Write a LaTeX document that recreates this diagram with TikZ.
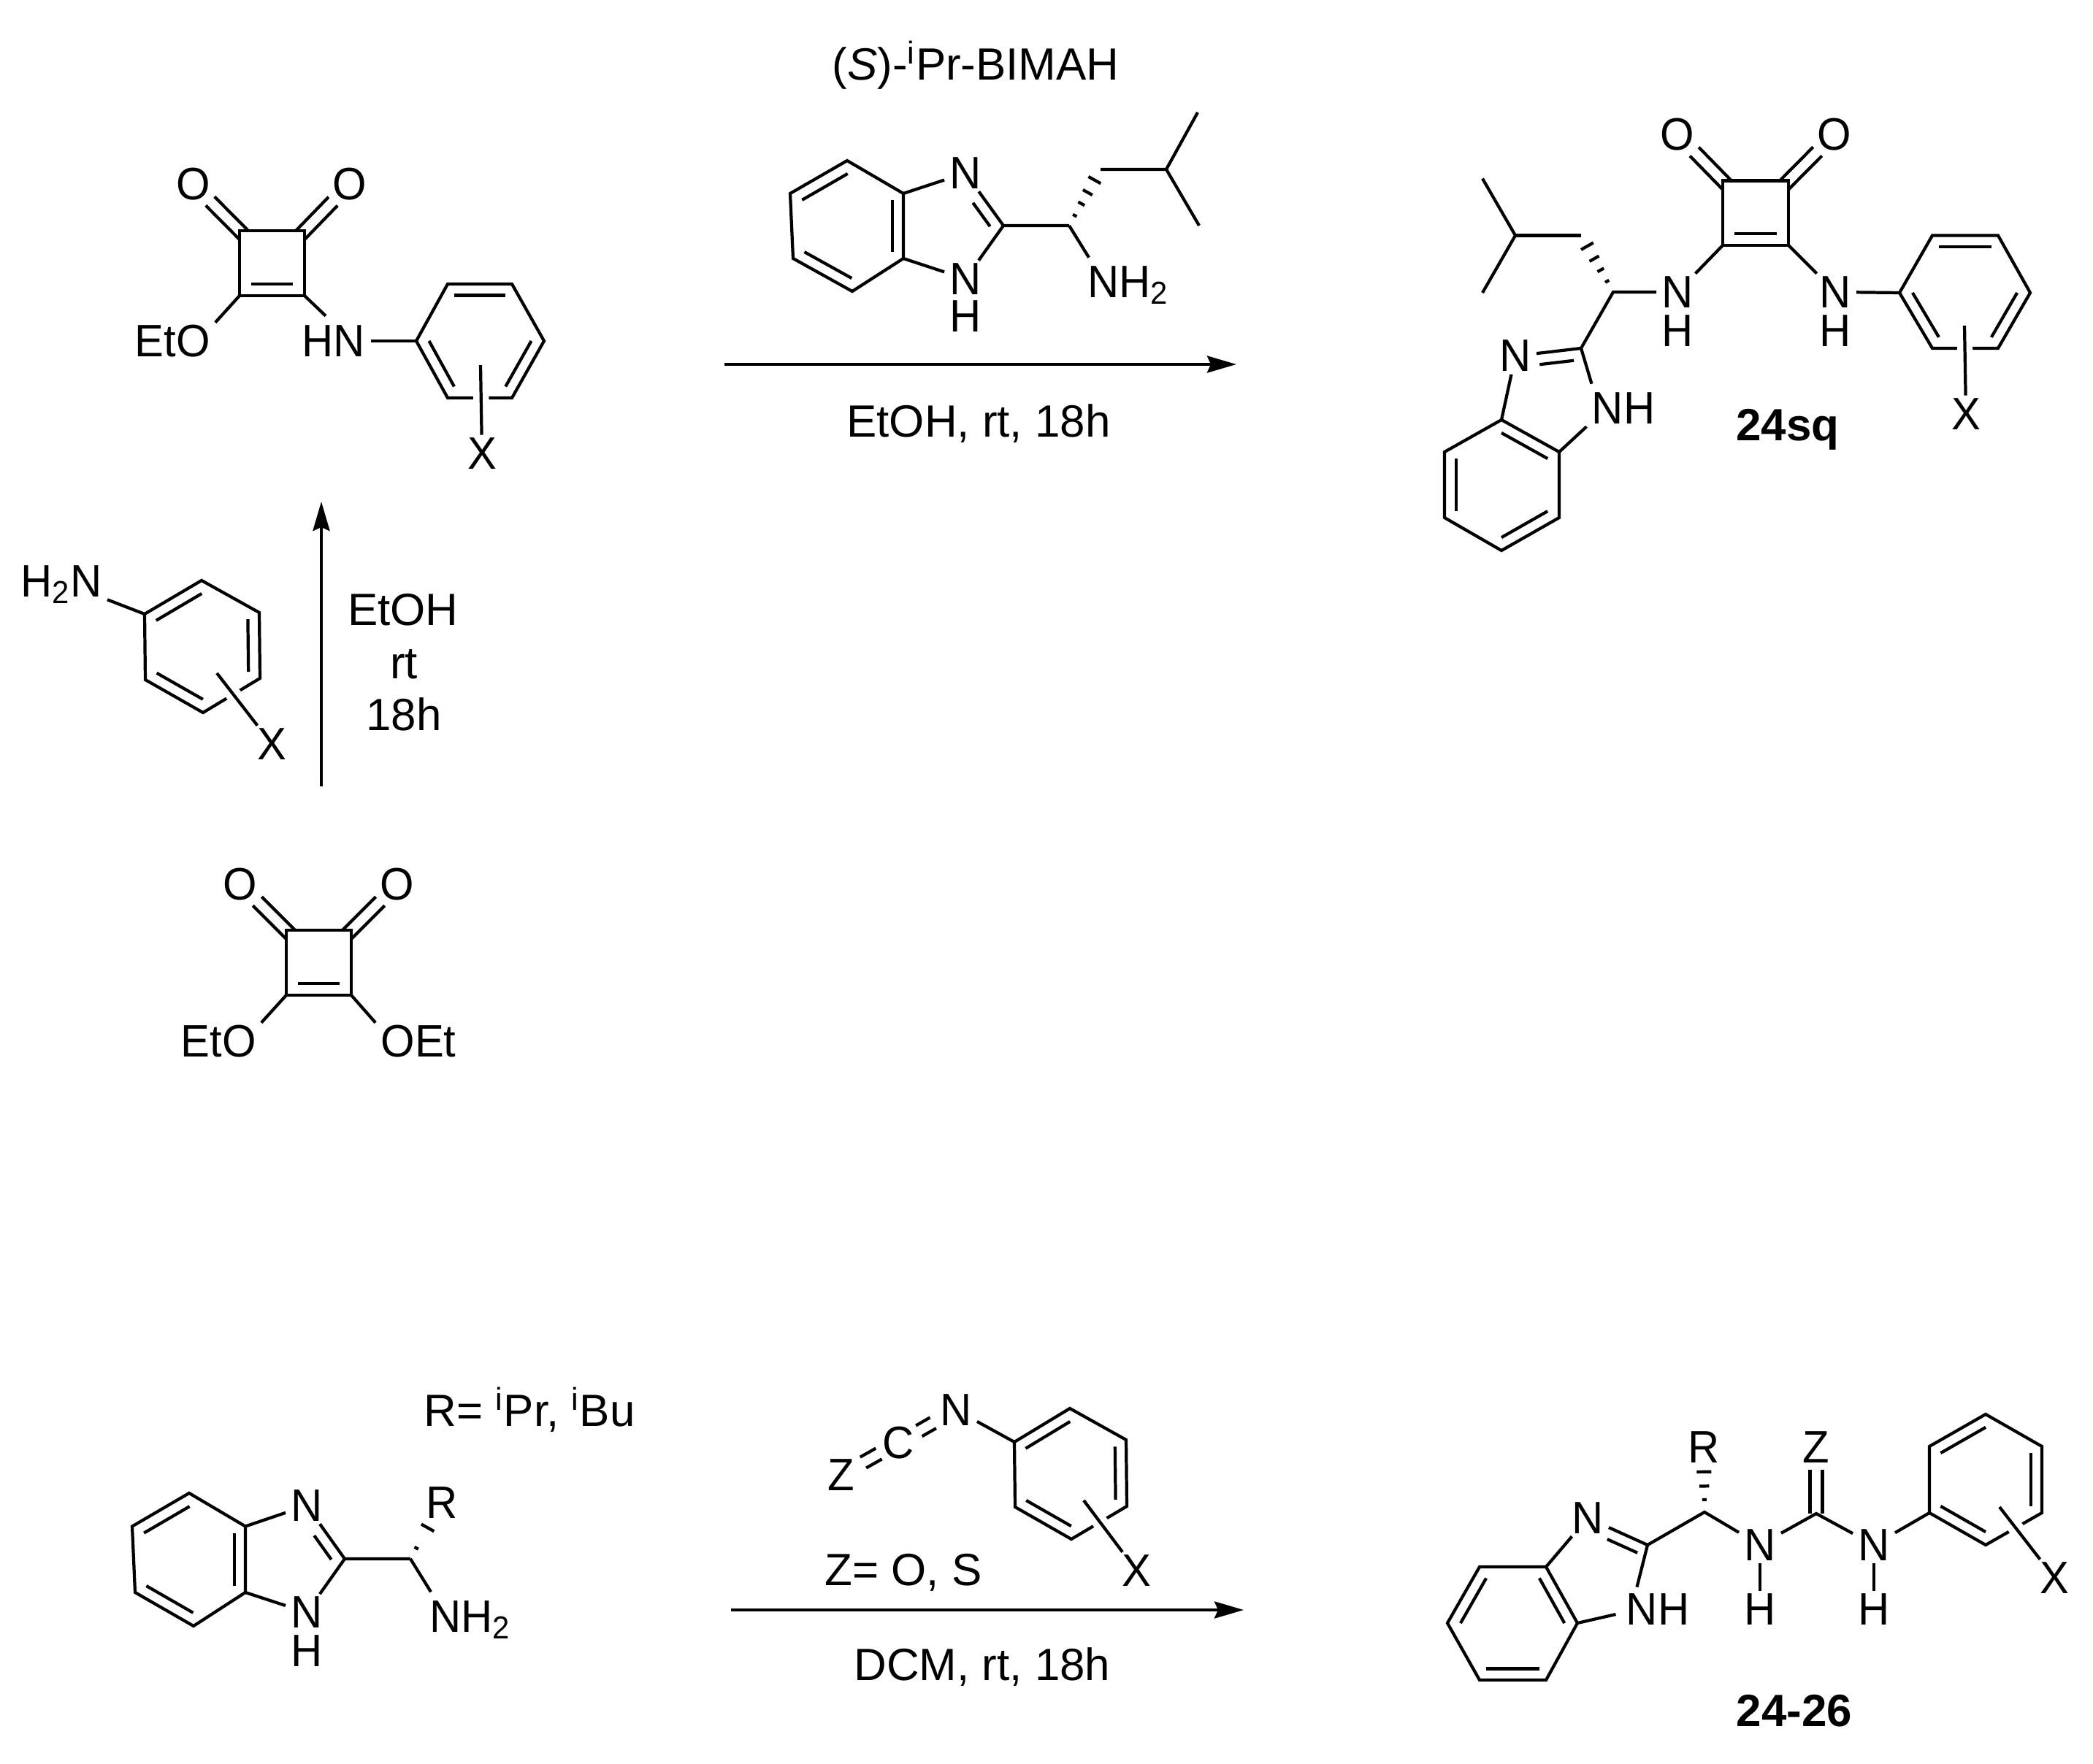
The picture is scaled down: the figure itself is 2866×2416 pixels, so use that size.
\documentclass[tikz,border=0pt]{standalone}
\usepackage{fontspec}
\setmainfont{Liberation Sans}
\newfontfamily\atomfam[FakeStretch=.96]{Liberation Sans}
\usetikzlibrary{arrows.meta,calc}
\newcommand{\atomfont}{\atomfam\fontsize{17.7}{20}\selectfont}
\newcommand{\notefont}{\fontsize{17.6}{20}\selectfont}
\newcommand{\inbond}[4][.2]{\draw ($(#2)!#1!(#4)$) -- ($(#3)!#1!(#4)$);}
\newcommand{\cnbond}[4]{\draw ($(#1)!#3!(#2)!.155cm!-90:(#2)$) -- ($(#1)!#4!(#2)!.155cm!-90:(#2)$);}
\newcommand{\dblbond}[4]{
    \coordinate (dba) at ($(#1)!#3!(#2)$);
    \coordinate (dbb) at ($(#2)!#4!(#1)$);
    \draw ($(dba)!.085cm!90:(dbb)$) -- ($(dbb)!.085cm!-90:(dba)$)
          ($(dba)!.085cm!-90:(dbb)$) -- ($(dbb)!.085cm!90:(dba)$);
}
\newcommand{\hashbond}[3]{
    \foreach \t/\w in {#3}
        \draw ($(#1)!\t!(#2)!\w cm!90:(#2)$) -- ($(#1)!\t!(#2)!\w cm!-90:(#2)$);
}
\tikzset{
    atom/.style={font=\atomfont,inner xsep=1.5pt,inner ysep=.5pt,text height=12.2pt,text depth=0pt},
    note/.style={font=\notefont,inner sep=0pt,text height=12.2pt,text depth=0pt},
    cpd/.style={font=\notefont\bfseries,inner sep=0pt,text height=12.2pt,text depth=0pt},
    over/.style={preaction={draw,white,line width=6pt}}
}
\begin{document}
\begin{tikzpicture}[x=.01cm,y=-.01cm,line width=1.2pt,>={Stealth[length=.4cm,width=.23cm,inset=.05cm]}]
            \useasboundingbox (0,0) rectangle (2866,2416);

            \coordinate (a1) at (328,316);
            \coordinate (a2) at (417,316);
            \coordinate (a3) at (417,405);
            \coordinate (a4) at (328,405);
            \coordinate (ac) at ($(a1)!.5!(a3)$);
            \node[atom] (aol) at (264.5,252) {O};
            \node[atom] (aor) at (479,252) {O};
            \node[atom] (aeto) at (236,467) {EtO};
            \node[atom] (ahn) at (457,467) {HN};
            \node[atom] (ax) at (660,621) {X};
            \draw (a1) -- (a2) -- (a3) -- (a4) -- cycle;
            \inbond[.36]{a4}{a3}{ac}
            \dblbond{aol}{a1}{.33cm}{-.08cm}
            \dblbond{aor}{a2}{.33cm}{-.08cm}
            \draw (a4) -- (aeto.north east);
            \draw (a3) -- ($(ahn.north)+(-11,-9)$);
            \coordinate (ap1) at (570,467);
            \coordinate (ap2) at (613,389);
            \coordinate (ap3) at (701,389);
            \coordinate (ap4) at (745,467);
            \coordinate (ap5) at (701,545);
            \coordinate (ap6) at (613,545);
            \coordinate (apc) at ($(ap1)!.5!(ap4)$);
            \draw (ap1) -- (ap2) -- (ap3) -- (ap4) -- (ap5) -- (ap6) -- cycle;
            \inbond{ap2}{ap3}{apc}
            \inbond{ap1}{ap6}{apc}
            \inbond{ap4}{ap5}{apc}
            \draw (ahn) -- (ap1);
            \coordinate (axa) at (658,500);
            \draw[over] (axa) -- (ax);

            \node[note] (btitle) at (1336,88) {(\textit{S})-\textsuperscript{i}Pr-BIMAH};
            \coordinate (b1) at (1160,220);
            \coordinate (b2) at (1082,265);
            \coordinate (b3) at (1086,354);
            \coordinate (b4) at (1167,399);
            \coordinate (b5) at (1237,354);
            \coordinate (b6) at (1237,265);
            \coordinate (bc) at ($(b1)!.5!(b4)$);
            \node[atom] (bn1) at (1322,237) {N};
            \node[atom] (bn2) at (1322,382) {N};
            \node[atom] (bh) at (1322,433) {H};
            \coordinate (bc2) at (1374,309);
            \coordinate (bcs) at (1464,309);
            \coordinate (bch2) at (1507,232);
            \coordinate (bch) at (1597,232);
            \coordinate (bme1) at (1640,154);
            \coordinate (bme2) at (1642,309);
            \node[atom,anchor=west,inner xsep=0pt] (bnh) at (1487,386) {NH\textsubscript{2}};
            \draw (b1) -- (b2) -- (b3) -- (b4) -- (b5) -- (b6) -- cycle;
            \inbond{b1}{b2}{bc}
            \inbond{b3}{b4}{bc}
            \inbond{b5}{b6}{bc}
            \draw (b6) -- (bn1);
            \draw (b5) -- (bn2);
            \draw (bn1) -- (bc2);
            \cnbond{bn1}{bc2}{.44}{.89}
            \draw (bn2) -- (bc2) -- (bcs);
            \draw (bcs) -- ($(bnh.north west)+(4,-8)$);
            \hashbond{bcs}{bch2}{.18/.03,.39/.05,.59/.074,.81/.096}
            \draw (bch2) -- (bch) -- (bme1);
            \draw (bch) -- (bme2);

            \coordinate (ar1a) at (992,499);
            \coordinate (ar1b) at (1693,499);
            \draw[->] (ar1a) -- (ar1b);
            \node[note] (ar1t) at (1340,577) {EtOH, rt, 18h};

            \coordinate (c1) at (2359,247.5);
            \coordinate (c2) at (2449,247.5);
            \coordinate (c3) at (2449,336);
            \coordinate (c4) at (2359,336);
            \coordinate (cc) at ($(c1)!.5!(c3)$);
            \node[atom] (col) at (2297,184) {O};
            \node[atom] (cor) at (2512,184) {O};
            \node[atom] (cn1) at (2297,400) {N};
            \node[atom] (ch1) at (2297,453) {H};
            \node[atom] (cn2) at (2513,400) {N};
            \node[atom] (ch2) at (2513,453) {H};
            \node[atom] (cx) at (2692,567) {X};
            \node[cpd] (clab) at (2448,582) {24sq};
            \draw (c1) -- (c2) -- (c3) -- (c4) -- cycle;
            \inbond[.36]{c4}{c3}{cc}
            \dblbond{col}{c1}{.33cm}{-.08cm}
            \dblbond{cor}{c2}{.33cm}{-.08cm}
            \draw (c4) -- (cn1);
            \draw (c3) -- (cn2);
            \coordinate (cp1) at (2601,401);
            \coordinate (cp2) at (2646,322.5);
            \coordinate (cp3) at (2736,322.5);
            \coordinate (cp4) at (2780,401);
            \coordinate (cp5) at (2736,477);
            \coordinate (cp6) at (2646,477);
            \coordinate (cpc) at ($(cp1)!.5!(cp4)$);
            \draw (cp1) -- (cp2) -- (cp3) -- (cp4) -- (cp5) -- (cp6) -- cycle;
            \inbond{cp2}{cp3}{cpc}
            \inbond{cp1}{cp6}{cpc}
            \inbond{cp4}{cp5}{cpc}
            \draw (cn2) -- (cp1);
            \coordinate (cxa) at (2690,446);
            \draw[over] (cxa) -- (cx);
            \coordinate (cme1) at (2030,244.6);
            \coordinate (cme2) at (2030,401);
            \coordinate (cch) at (2075,322.5);
            \coordinate (cch2) at (2165,322.5);
            \coordinate (ccs) at (2209,400);
            \coordinate (cc2) at (2165,477);
            \draw (cme1) -- (cch) -- (cme2);
            \draw (cch) -- (cch2);
            \hashbond{ccs}{cch2}{.19/.03,.39/.05,.59/.074,.81/.096}
            \draw (cc2) -- (ccs) -- (cn1);
            \node[atom] (cn3) at (2075,487.5) {N};
            \node[atom] (cnh) at (2223,559) {NH};
            \draw (cn3) -- (cc2);
            \cnbond{cn3}{cc2}{.35}{.87}
            \draw (cc2) -- ($(cnh.north west)+(7,-8)$);
            \coordinate (cb1) at (2056,575);
            \coordinate (cb2) at (2135,619);
            \coordinate (cb3) at (2135,709);
            \coordinate (cb4) at (2056,754);
            \coordinate (cb5) at (1978,709);
            \coordinate (cb6) at (1978,619);
            \coordinate (cbc) at ($(cb1)!.5!(cb4)$);
            \draw (cb1) -- (cb2) -- (cb3) -- (cb4) -- (cb5) -- (cb6) -- cycle;
            \inbond{cb1}{cb2}{cbc}
            \inbond{cb3}{cb4}{cbc}
            \inbond{cb5}{cb6}{cbc}
            \draw (cn3) -- (cb1);
            \draw (cnh.south west) -- (cb2);

            \coordinate (d1) at (198,841);
            \coordinate (d2) at (276,795);
            \coordinate (d3) at (355,839);
            \coordinate (d4) at (356,929);
            \coordinate (d5) at (278,976);
            \coordinate (d6) at (199,931);
            \coordinate (dc) at ($(d1)!.5!(d4)$);
            \node[atom] (dnh) at (84,796) {H\textsubscript{2}N};
            \node[atom] (dx) at (372,1019) {X};
            \draw (d1) -- (d2) -- (d3) -- (d4) -- (d5) -- (d6) -- cycle;
            \inbond{d1}{d2}{dc}
            \inbond{d3}{d4}{dc}
            \inbond{d5}{d6}{dc}
            \draw (dnh.south east) -- (d1);
            \coordinate (dxa) at (297,922);
            \draw[over] (dxa) -- (dx);

            \coordinate (ar2a) at (440,1077);
            \coordinate (ar2b) at (440,687);
            \draw[->] (ar2a) -- (ar2b);
            \node[note] (ar2t1) at (552,835) {EtOH};
            \node[note] (ar2t2) at (553,908) {rt};
            \node[note] (ar2t3) at (553,979) {18h};

            \coordinate (e1) at (392,1274);
            \coordinate (e2) at (481,1274);
            \coordinate (e3) at (481,1363);
            \coordinate (e4) at (392,1363);
            \coordinate (ec) at ($(e1)!.5!(e3)$);
            \node[atom] (eol) at (329,1211) {O};
            \node[atom] (eor) at (544,1211) {O};
            \node[atom] (eeto) at (299,1426) {EtO};
            \node[atom] (eoet) at (573,1426) {OEt};
            \draw (e1) -- (e2) -- (e3) -- (e4) -- cycle;
            \inbond[.36]{e4}{e3}{ec}
            \dblbond{eol}{e1}{.33cm}{-.08cm}
            \dblbond{eor}{e2}{.33cm}{-.08cm}
            \draw (e4) -- (eeto.north east);
            \draw (e3) -- (eoet.north west);

            \node[note] (frdef) at (725,1932) {R= \textsuperscript{i}Pr, \textsuperscript{i}Bu};
            \coordinate (f1) at (259,2045);
            \coordinate (f2) at (181,2090.5);
            \coordinate (f3) at (185,2181);
            \coordinate (f4) at (265,2227);
            \coordinate (f5) at (336,2181);
            \coordinate (f6) at (336,2090.5);
            \coordinate (fc) at ($(f1)!.5!(f4)$);
            \node[atom] (fn1) at (420,2062) {N};
            \node[atom] (fn2) at (420,2208.5) {N};
            \node[atom] (fh) at (420,2261) {H};
            \node[atom] (fr) at (605,2057.6) {R};
            \node[atom,anchor=west,inner xsep=0pt] (fnh) at (586,2213.6) {NH\textsubscript{2}};
            \coordinate (fc2) at (472,2135);
            \coordinate (fcs) at (562,2135);
            \draw (f1) -- (f2) -- (f3) -- (f4) -- (f5) -- (f6) -- cycle;
            \inbond{f1}{f2}{fc}
            \inbond{f3}{f4}{fc}
            \inbond{f5}{f6}{fc}
            \draw (f6) -- (fn1);
            \draw (f5) -- (fn2);
            \draw (fn1) -- (fc2);
            \cnbond{fn1}{fc2}{.44}{.89}
            \draw (fn2) -- (fc2) -- (fcs);
            \draw (fcs) -- ($(fnh.north west)+(4,-8)$);
            \hashbond{fcs}{fr}{.19/.03,.55/.1}

            \coordinate (g1) at (1389,1975);
            \coordinate (g2) at (1465,1929);
            \coordinate (g3) at (1542,1972);
            \coordinate (g4) at (1543,2063);
            \coordinate (g5) at (1467,2108);
            \coordinate (g6) at (1390,2064);
            \coordinate (gc) at ($(g1)!.5!(g4)$);
            \node[atom] (gn) at (1309,1931) {N};
            \node[atom] (gcc) at (1230,1976) {C};
            \node[atom] (gz) at (1152,2020) {Z};
            \node[atom] (gx) at (1556,2151) {X};
            \node[note] (gdef) at (1237,2150) {Z= O, S};
            \draw (g1) -- (g2) -- (g3) -- (g4) -- (g5) -- (g6) -- cycle;
            \inbond{g1}{g2}{gc}
            \inbond{g3}{g4}{gc}
            \inbond{g5}{g6}{gc}
            \draw (gn) -- (g1);
            \coordinate (gxa) at (1484,2055);
            \draw[over] (gxa) -- (gx);
            \dblbond{gcc}{gn}{.326cm}{.36cm}
            \dblbond{gz}{gcc}{.344cm}{.305cm}

            \coordinate (ar3a) at (1001,2205);
            \coordinate (ar3b) at (1703,2205);
            \draw[->] (ar3a) -- (ar3b);
            \node[note] (ar3t) at (1345,2280) {DCM, rt, 18h};

            \coordinate (h1) at (2026,2146);
            \coordinate (h2) at (2117,2146);
            \coordinate (h3) at (2160,2223);
            \coordinate (h4) at (2117,2301);
            \coordinate (h5) at (2026,2301);
            \coordinate (h6) at (1982,2223);
            \coordinate (hc) at ($(h1)!.5!(h4)$);
            \draw (h1) -- (h2) -- (h3) -- (h4) -- (h5) -- (h6) -- cycle;
            \inbond{h1}{h6}{hc}
            \inbond{h2}{h3}{hc}
            \inbond{h4}{h5}{hc}
            \node[atom] (hn1) at (2174,2079) {N};
            \node[atom] (hnh) at (2270,2204) {NH};
            \coordinate (hc2) at (2256,2116);
            \coordinate (hcs) at (2334,2071);
            \coordinate (hco) at (2487,2073);
            \node[atom] (hr) at (2333,1982) {R};
            \node[atom] (hz) at (2487,1982) {Z};
            \node[atom] (hn2) at (2410,2116) {N};
            \node[atom] (hh2) at (2410,2204) {H};
            \node[atom] (hn3) at (2566,2116) {N};
            \node[atom] (hh3) at (2566,2204) {H};
            \node[atom] (hx) at (2813,2161) {X};
            \node[cpd] (hlab) at (2457,2343) {24-26};
            \draw (h2) -- (hn1);
            \draw (hn1) -- (hc2);
            \cnbond{hn1}{hc2}{.405}{.908}
            \draw (hc2) -- ($(hnh.north west)+(22,-5)$);
            \draw (h3) -- ($(hnh.west)+(-7,7)$);
            \draw (hc2) -- (hcs) -- (hn2);
            \hashbond{hcs}{hr}{.19/.03,.40/.068,.62/.1}
            \draw (hn2) -- (hh2);
            \draw (hn2) -- (hco) -- (hn3);
            \dblbond{hz}{hco}{.31cm}{0cm}
            \draw (hn3) -- (hh3);
            \coordinate (hp1) at (2642,2072);
            \coordinate (hp2) at (2642,1981);
            \coordinate (hp3) at (2719,1937);
            \coordinate (hp4) at (2796,1981);
            \coordinate (hp5) at (2796,2072);
            \coordinate (hp6) at (2719,2116);
            \coordinate (hpc) at ($(hp1)!.5!(hp4)$);
            \draw (hp1) -- (hp2) -- (hp3) -- (hp4) -- (hp5) -- (hp6) -- cycle;
            \inbond{hp2}{hp3}{hpc}
            \inbond{hp4}{hp5}{hpc}
            \inbond{hp6}{hp1}{hpc}
            \draw (hn3) -- (hp1);
            \coordinate (hxa) at (2738,2064);
            \draw[over] (hxa) -- (hx);
        \end{tikzpicture}
\end{document}
